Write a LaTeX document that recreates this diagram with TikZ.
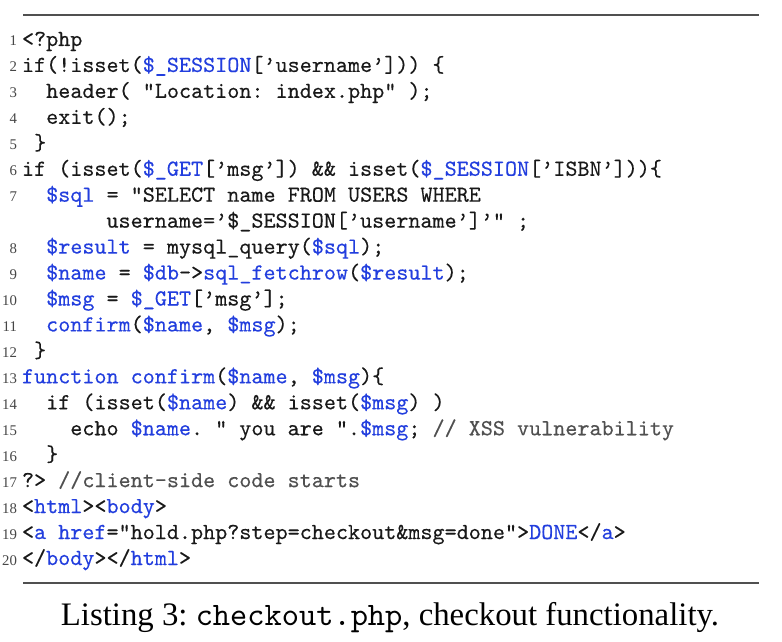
\documentclass[tikz,border=0pt]{standalone}
\usepackage{fontspec}
\setmainfont{Liberation Serif}
\newfontfamily\codefont{lmmono10-regular.otf}[FakeBold=0.3]
\newfontfamily\capttfont{lmmono10-regular.otf}
\definecolor{codeblue}{RGB}{34,62,222}
\definecolor{codegray}{RGB}{80,80,80}
\definecolor{codeblack}{RGB}{25,25,25}
\definecolor{numgray}{RGB}{70,70,70}
\definecolor{rulegray}{RGB}{80,80,80}
\newcommand\kw[1]{\textcolor{codeblue}{#1}}
\newcommand\cm[1]{\textcolor{codegray}{#1}}
\tikzset{
  codetext/.style={anchor=base west, inner sep=0pt, outer sep=0pt, text=codeblack,
    font=\frenchspacing\codefont\fontsize{23.0}{26}\selectfont},
  lnum/.style={anchor=base east, inner sep=0pt, outer sep=0pt, text=numgray,
    font=\fontsize{14.8}{16}\selectfont},
  listrule/.style={draw=rulegray, line width=2.2pt},
  captiontext/.style={anchor=base, inner sep=0pt, text=black,
    font=\frenchspacing\fontsize{32.8}{36}\selectfont}
}
\begin{document}
\begin{tikzpicture}[x=1pt,y=-1pt]
\useasboundingbox (0,0) rectangle (782,642);
\fill[white] (0,0) rectangle (782,642);
\coordinate (rtl) at (23,15);
\coordinate (rtr) at (759,15);
\coordinate (rbl) at (23,583);
\coordinate (rbr) at (759,583);
\draw[listrule] (rtl) -- (rtr);
\draw[listrule] (rbl) -- (rbr);
% line numbers
\node[lnum] (n1)  at (17,46)     {1};
\node[lnum] (n2)  at (17,71.95)  {2};
\node[lnum] (n3)  at (17,97.9)   {3};
\node[lnum] (n4)  at (17,123.85) {4};
\node[lnum] (n5)  at (17,149.8)  {5};
\node[lnum] (n6)  at (17,175.75) {6};
\node[lnum] (n7)  at (17,201.7)  {7};
\node[lnum] (n8)  at (17,253.6)  {8};
\node[lnum] (n9)  at (17,279.55) {9};
\node[lnum] (n10) at (17,305.5)  {10};
\node[lnum] (n11) at (17,331.45) {11};
\node[lnum] (n12) at (17,357.4)  {12};
\node[lnum] (n13) at (17,383.35) {13};
\node[lnum] (n14) at (17,409.3)  {14};
\node[lnum] (n15) at (17,435.25) {15};
\node[lnum] (n16) at (17,461.2)  {16};
\node[lnum] (n17) at (17,487.15) {17};
\node[lnum] (n18) at (17,513.1)  {18};
\node[lnum] (n19) at (17,539.05) {19};
\node[lnum] (n20) at (17,565)    {20};
% code
\node[codetext] (l1)  at (22,46)       {<?php};
\node[codetext] (l2)  at (22,71.95)    {if(!isset(\kw{\$\_SESSION}[’username’])) \{};
\node[codetext] (l3)  at (46.2,97.9)   {header( "Location: index.php" );};
\node[codetext] (l4)  at (46.2,123.85) {exit();};
\node[codetext] (l5)  at (34.1,149.8)  {\}};
\node[codetext] (l6)  at (22,175.75)   {if (isset(\kw{\$\_GET}[’msg’]) \&\& isset(\kw{\$\_SESSION}[’ISBN’]))\{};
\node[codetext] (l7)  at (46.2,201.7)  {\kw{\$sql} = "SELECT name FROM USERS WHERE};
\node[codetext] (l7b) at (106.5,227.65) {username=’\$\_SESSION[’username’]’" ;};
\node[codetext] (l8)  at (46.2,253.6)  {\kw{\$result} = mysql\_query(\kw{\$sql});};
\node[codetext] (l9)  at (46.2,279.55) {\kw{\$name} = \kw{\$db}->\kw{sql\_fetchrow}(\kw{\$result});};
\node[codetext] (l10) at (46.2,305.5)  {\kw{\$msg} = \kw{\$\_GET}[’msg’];};
\node[codetext] (l11) at (46.2,331.45) {\kw{confirm}(\kw{\$name}, \kw{\$msg});};
\node[codetext] (l12) at (34.1,357.4)  {\}};
\node[codetext] (l13) at (22,383.35)   {\kw{function confirm}(\kw{\$name}, \kw{\$msg})\{};
\node[codetext] (l14) at (46.2,409.3)  {if (isset(\kw{\$name}) \&\& isset(\kw{\$msg}) )};
\node[codetext] (l15) at (70.3,435.25) {echo \kw{\$name}. " you are ".\kw{\$msg}; \cm{// XSS vulnerability}};
\node[codetext] (l16) at (46.2,461.2)  {\}};
\node[codetext] (l17) at (22,487.15)   {?> \cm{//client-side code starts}};
\node[codetext] (l18) at (22,513.1)    {<\kw{html}><\kw{body}>};
\node[codetext] (l19) at (22,539.05)   {<\kw{a} \kw{href}="hold.php?step=checkout\&msg=done">\kw{DONE}</\kw{a}>};
\node[codetext] (l20) at (22,565)      {</\kw{body}></\kw{html}>};
% caption
\node[captiontext] (cap) at (390,625) {Listing 3: {\capttfont checkout.php}, checkout functionality.};
\end{tikzpicture}
\end{document}
